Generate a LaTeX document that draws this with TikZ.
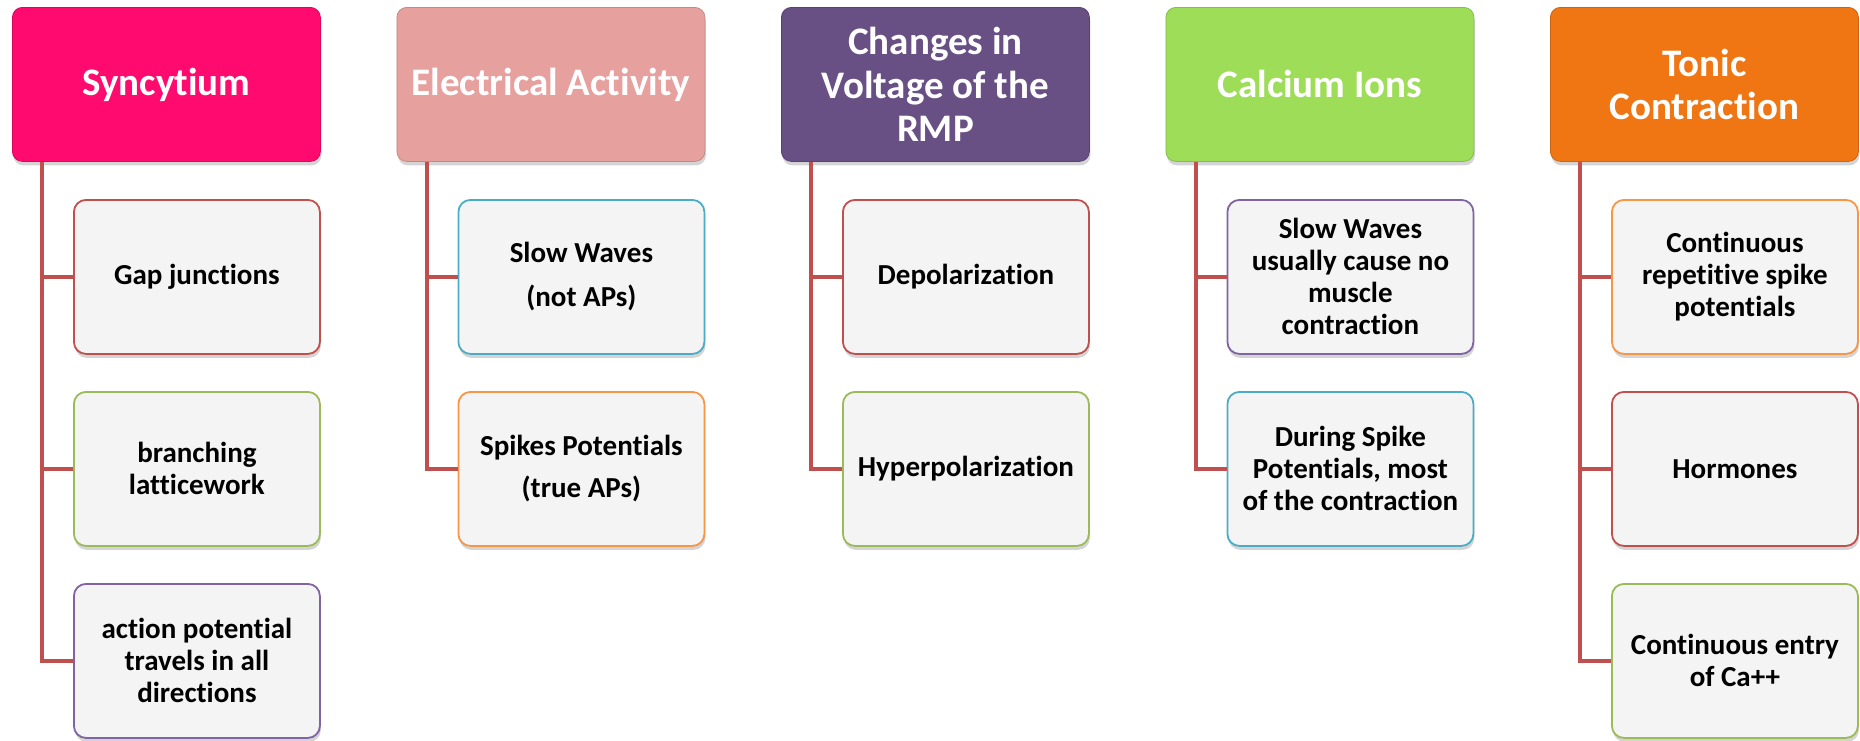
\documentclass[tikz,border=0pt]{standalone}
\usepackage{fontspec}
\setmainfont{Carlito}[Ligatures=NoCommon]
\usetikzlibrary{shadows,calc}
\definecolor{hpink}{HTML}{FF0A6E}
\definecolor{hsalmon}{HTML}{E6A19F}
\definecolor{hpurple}{HTML}{684F84}
\definecolor{hgreen}{HTML}{9EDD58}
\definecolor{horange}{HTML}{F07614}
\definecolor{bred}{HTML}{C0504D}
\definecolor{bgreen}{HTML}{9BBB59}
\definecolor{bpurple}{HTML}{8064A2}
\definecolor{baqua}{HTML}{4BACC6}
\definecolor{borange}{HTML}{F79646}
\definecolor{boxgray}{HTML}{F4F4F4}
\definecolor{connred}{HTML}{C0504D}
\begin{document}
\begin{tikzpicture}[x=1pt,y=-1pt,
  shd/.style={drop shadow={shadow xshift=1pt,shadow yshift=-4pt,opacity=0.28,fill=black!60}},
  head/.style={shd,rounded corners=10pt,minimum width=308pt,minimum height=154pt,
    anchor=north west,text=white,align=center,inner sep=4pt,
    font=\fontsize{39}{43.5}\selectfont\bfseries,fill=#1,draw=#1!85!black,line width=0.8pt},
  item/.style={shd,rounded corners=12pt,minimum width=246pt,minimum height=154pt,
    anchor=north west,fill=boxgray,draw=#1,line width=1.8pt,align=center,inner sep=4pt,
    font=\fontsize{29}{32}\selectfont\bfseries},
  conn/.style={draw=connred,line width=4pt}]
\useasboundingbox (0,0) rectangle (1860,740);

% column 1
\node[head=hpink] (h1) at (12,7) {Syncytium};
\node[item=bred] (c11) at (73,199) {Gap junctions};
\node[item=bgreen] (c12) at (73,391) {branching\\latticework};
\node[item=bpurple] (c13) at (73,583) {action potential\\travels in all\\directions};
% column 2
\node[head=hsalmon] (h2) at (396.5,7) {Electrical Activity};
\node[item=baqua] (c21) at (457.5,199) {Slow Waves\\[12pt](not APs)};
\node[item=borange] (c22) at (457.5,391) {Spikes Potentials\\[10pt](true APs)};
% column 3
\node[head=hpurple] (h3) at (781,7) {Changes in\\Voltage of the\\RMP};
\node[item=bred] (c31) at (842,199) {Depolarization};
\node[item=bgreen] (c32) at (842,391) {Hyperpolarization};
% column 4
\node[head=hgreen] (h4) at (1165.5,7) {Calcium Ions};
\node[item=bpurple] (c41) at (1226.5,199) {Slow Waves\\usually cause no\\muscle\\contraction};
\node[item=baqua] (c42) at (1226.5,391) {During Spike\\Potentials, most\\of the contraction};
% column 5
\node[head=horange] (h5) at (1550,7) {Tonic\\Contraction};
\node[item=borange] (c51) at (1611,199) {Continuous\\repetitive spike\\potentials};
\node[item=bred] (c52) at (1611,391) {Hormones};
\node[item=bgreen] (c53) at (1611,583) {Continuous entry\\of Ca++};

% connectors
\foreach \h in {1,...,5}{
  \coordinate (t\h) at ($(h\h.south west)+(30pt,0)$);
}
\draw[conn] (t1) |- (c11.west);
\draw[conn] (t1) |- (c12.west);
\draw[conn] (t1) |- (c13.west);
\draw[conn] (t2) |- (c21.west);
\draw[conn] (t2) |- (c22.west);
\draw[conn] (t3) |- (c31.west);
\draw[conn] (t3) |- (c32.west);
\draw[conn] (t4) |- (c41.west);
\draw[conn] (t4) |- (c42.west);
\draw[conn] (t5) |- (c51.west);
\draw[conn] (t5) |- (c52.west);
\draw[conn] (t5) |- (c53.west);
\end{tikzpicture}
\end{document}
